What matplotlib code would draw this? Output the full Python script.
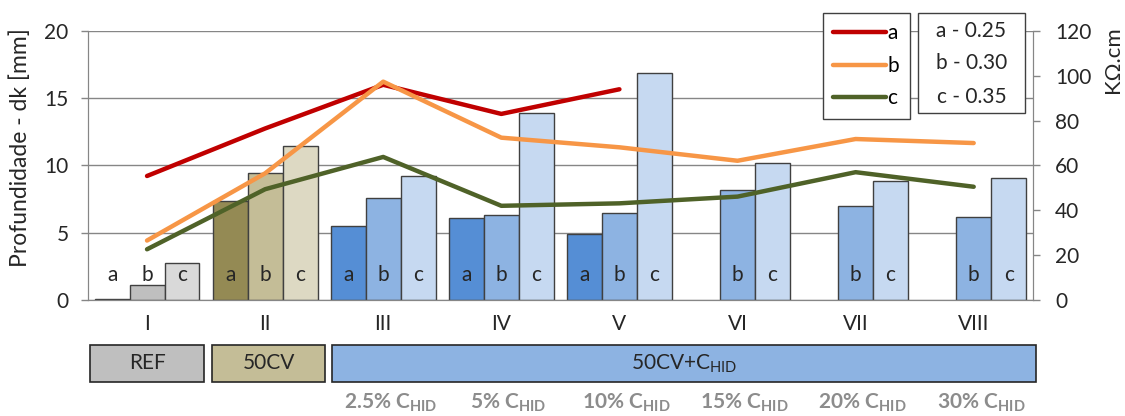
import numpy as np
import matplotlib.pyplot as plt
import matplotlib.transforms as mtransforms
from matplotlib.patches import Rectangle

plt.rcParams['font.family'] = ['Lato', 'DejaVu Sans']
plt.rcParams['mathtext.fontset'] = 'custom'
plt.rcParams['mathtext.rm'] = 'Lato'
plt.rcParams['mathtext.bf'] = 'Lato:bold'

nan = np.nan
groups = ['I', 'II', 'III', 'IV', 'V', 'VI', 'VII', 'VIII']

# depth dk [mm] (bars, left axis)
depthA = [0.05, 7.35, 5.5, 6.1, 4.9, nan, nan, nan]
depthB = [1.1, 9.45, 7.55, 6.3, 6.45, 8.2, 6.95, 6.2]
depthC = [2.75, 11.45, 9.25, 13.9, 16.9, 10.2, 8.85, 9.05]

# resistivity [KOhm.cm] (lines, right axis)
resA = [55.3, 76.5, 96.0, 83.0, 94.0, nan, nan, nan]
resB = [26.5, 56.5, 97.4, 72.4, 68.1, 62.1, 71.8, 70.0]
resC = [22.6, 49.4, 63.8, 42.0, 43.1, 46.1, 57.0, 50.5]

wcLabels = ['a - 0.25', 'b - 0.30', 'c - 0.35']
families = ['REF', '50CV', r'50CV+C$_{\mathrm{HID}}$']
familySpan = [(-0.48, 0.48), (0.55, 1.51), (1.57, 7.53)]
familyColors = ['#BFBFBF', '#C4BD97', '#8DB3E2']
hidLabels = ['2.5%', '5%', '10%', '15%', '20%', '30%']

blueA, blueB, blueC = '#558ED5', '#8DB3E2', '#C6D9F1'
colorsA = ['#7F7F7F', '#948A54'] + [blueA] * 6
colorsB = ['#BFBFBF', '#C4BD97'] + [blueB] * 6
colorsC = ['#D9D9D9', '#DDD9C3'] + [blueC] * 6

textColor = '#262626'
axisGray = '#868686'
fs = 15

fig = plt.figure(figsize=(11.25, 4.16), dpi=100)
ax = fig.add_axes([0.0782, 0.279, 0.918 - 0.0782, 0.9255 - 0.279])
ax2 = ax.twinx()

x = np.arange(len(groups))
w = 0.296
for off, vals, cols, letter in [(-w, depthA, colorsA, 'a'), (0, depthB, colorsB, 'b'), (w, depthC, colorsC, 'c')]:
    ax.bar(x + off, vals, width=w, color=cols, edgecolor='#404040', linewidth=1, zorder=2)
    for xi, v in zip(x, vals):
        if not np.isnan(v):
            ax.text(xi + off, 1.85, letter, ha='center', va='center', fontsize=fs, color=textColor, zorder=3)

ax.set_xlim(-0.5, len(groups) - 0.5)
ax.set_ylim(0, 20)
ax.set_yticks([0, 5, 10, 15, 20])
ax.set_xticks(x)
ax.set_xticklabels(groups)
ax.grid(axis='y', color=axisGray, linewidth=1, zorder=0)
ax.set_axisbelow(True)
ax.tick_params(axis='y', labelsize=fs, colors=axisGray, labelcolor=textColor, length=5, width=1, pad=9)
ax.tick_params(axis='x', labelsize=fs, labelcolor=textColor, length=0, pad=10)

ax2.plot(x, resA, color='#C00000', linewidth=3.2, solid_capstyle='round', label='a')
ax2.plot(x, resB, color='#F79646', linewidth=3.2, solid_capstyle='round', label='b')
ax2.plot(x, resC, color='#4F6228', linewidth=3.2, solid_capstyle='round', label='c')
ax2.set_ylim(0, 120)
ax2.set_yticks(range(0, 121, 20))
ax2.tick_params(axis='y', labelsize=fs, colors=axisGray, labelcolor=textColor, length=5, width=1, pad=11)

for a in (ax, ax2):
    a.spines['top'].set_visible(False)
    for s in ('left', 'right', 'bottom'):
        a.spines[s].set_color(axisGray)

fig.text(20 / 1125, 1 - 148 / 416, 'Profundidade - dk [mm]', rotation=90, ha='center', va='center',
         fontsize=16.5, color=textColor)
fig.text(1113 / 1125, 1 - 60 / 416, 'KΩ.cm', rotation=90, ha='center', va='center', fontsize=16, color=textColor)

# legend of the lines
leg1 = ax2.legend(loc='upper left', bbox_to_anchor=(823 / 1125, 1 - 13 / 416), bbox_transform=fig.transFigure,
                  fancybox=False, edgecolor='#404040', framealpha=1, fontsize=fs, handlelength=2.5,
                  handletextpad=0.1, borderpad=0.5, labelspacing=0.6, borderaxespad=0)
leg1.get_frame().set_linewidth(1)

# box with water/cement ratios
boxX0, boxX1, boxY0, boxY1 = 918 / 1125, 1025 / 1125, 1 - 113 / 416, 1 - 13 / 416
fig.patches.append(Rectangle((boxX0, boxY0), boxX1 - boxX0, boxY1 - boxY0, transform=fig.transFigure,
                             facecolor='white', edgecolor='#404040', linewidth=1, zorder=5))
for rowY, lab in zip([31, 63, 97], wcLabels):
    fig.text((boxX0 + boxX1) / 2, 1 - rowY / 416, lab, ha='center', va='center', fontsize=fs,
             color=textColor, zorder=6)

# family boxes under the axis
trans = mtransforms.blended_transform_factory(ax.transData, ax.transAxes)
for (x0, x1), name, col in zip(familySpan, families, familyColors):
    ax.add_patch(Rectangle((x0, -0.305), x1 - x0, 0.138, transform=trans, facecolor=col,
                           edgecolor='#262626', linewidth=1.2, clip_on=False))
    ax.text((x0 + x1) / 2, -0.236, name, transform=trans, ha='center', va='center', fontsize=fs, color=textColor)

for xi, lab in zip(x[2:], hidLabels):
    ax.text(xi + 0.06, -0.383, lab + r' C$_{\mathbf{HID}}$', transform=trans, ha='center', va='center',
            fontsize=15, fontweight='bold', color='#8C8C8C')

fig.savefig('out.png', dpi=100)
